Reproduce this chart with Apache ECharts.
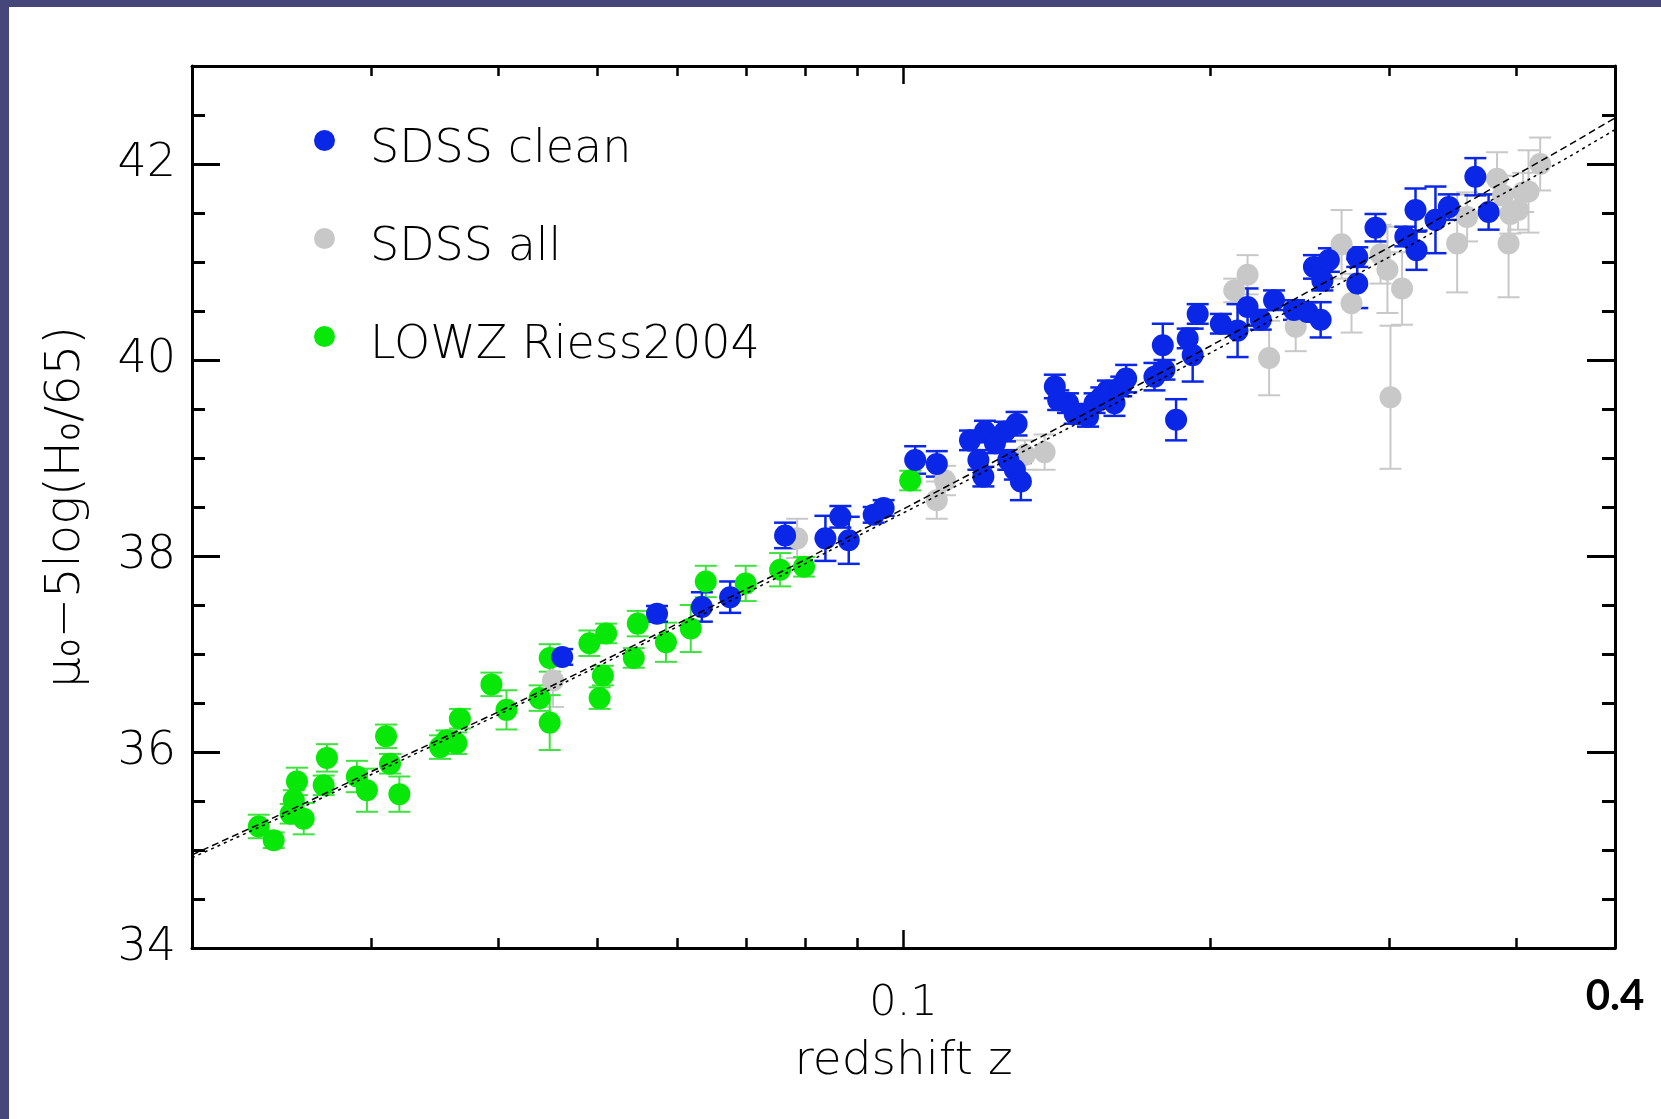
<!DOCTYPE html>
<html>
<head>
<meta charset="utf-8">
<script src="https://cdn.jsdelivr.net/npm/echarts@6/dist/echarts.min.js"></script>
<style>
html, body { margin: 0; padding: 0; background: #46467a; }
#chart { position: absolute; left: 9px; top: 7px; width: 1652px; height: 1112px; background: #fff; }
</style>
</head>
<body>
<div id="chart"></div>
<script>
// SDSS clean (blue)
const cleanZ = [0.04621, 0.05726, 0.06337, 0.06756, 0.0765, 0.08381, 0.08669, 0.08835, 0.09348, 0.09561,
  0.10268, 0.10782, 0.11623, 0.12023, 0.11846, 0.11981, 0.12298, 0.12579, 0.12915, 0.12674,
  0.12865, 0.13041, 0.14082, 0.14189, 0.14507, 0.14729, 0.14949, 0.1518, 0.15406, 0.15642,
  0.15878, 0.16116, 0.16364, 0.16548, 0.17641, 0.18044, 0.17978, 0.18526, 0.19019, 0.19235,
  0.19454, 0.20502, 0.2129, 0.21777, 0.22439, 0.23121, 0.24188, 0.24934, 0.25692, 0.25306,
  0.25793, 0.26176, 0.27911, 0.27911, 0.29087, 0.31117, 0.31842, 0.31915, 0.33312, 0.34333,
  0.36458, 0.37566];
const cleanMu = [36.97, 37.41, 37.48, 37.58, 38.21, 38.18, 38.40, 38.16, 38.42, 38.49,
  38.98, 38.94, 39.18, 39.27, 38.98, 38.81, 39.15, 39.27, 39.35, 38.98,
  38.88, 38.76, 39.73, 39.59, 39.56, 39.45, 39.45, 39.42, 39.56, 39.62,
  39.69, 39.56, 39.73, 39.81, 39.83, 39.90, 40.15, 39.39, 40.22, 40.05,
  40.47, 40.37, 40.30, 40.54, 40.41, 40.61, 40.51, 40.49, 40.41, 40.95,
  40.81, 41.02, 41.05, 40.78, 41.35, 41.26, 41.53, 41.12, 41.43, 41.56,
  41.87, 41.51];
const cleanErr = [0.08, 0.08, 0.15, 0.16, 0.13, 0.23, 0.11, 0.24, 0.08, 0.08,
  0.14, 0.13, 0.10, 0.11, 0.10, 0.10, 0.10, 0.10, 0.12, 0.10,
  0.10, 0.19, 0.12, 0.10, 0.10, 0.10, 0.10, 0.10, 0.10, 0.10,
  0.10, 0.13, 0.10, 0.14, 0.14, 0.10, 0.22, 0.21, 0.10, 0.27,
  0.10, 0.10, 0.27, 0.19, 0.10, 0.10, 0.10, 0.10, 0.18, 0.12,
  0.10, 0.12, 0.10, 0.25, 0.14, 0.10, 0.22, 0.20, 0.34, 0.13,
  0.19, 0.18];

// SDSS all (grey)
const allZ = [0.04525, 0.07862, 0.10985, 0.10782, 0.13159, 0.1376, 0.2113, 0.21777, 0.22866, 0.24283,
  0.26939, 0.2755, 0.29417, 0.29882, 0.30088, 0.30888, 0.34986, 0.35784, 0.38291, 0.38815,
  0.39455, 0.39301, 0.40159, 0.40617, 0.41115, 0.42216];
const allMu = [36.73, 38.18, 38.77, 38.57, 39.03, 39.06, 40.71, 40.87, 40.02, 40.34,
  41.18, 40.58, 41.08, 40.92, 39.62, 40.73, 41.19, 41.46, 41.85, 41.68,
  41.49, 41.19, 41.53, 41.71, 41.72, 42.00];
const allErr = [0.27, 0.20, 0.15, 0.19, 0.15, 0.18, 0.12, 0.20, 0.38, 0.25,
  0.35, 0.30, 0.30, 0.44, 0.73, 0.37, 0.50, 0.25, 0.27, 0.20,
  0.20, 0.55, 0.20, 0.20, 0.42, 0.27];

// LOWZ Riess2004 (green)
const lowzZ = [0.02326, 0.02406, 0.02536, 0.02518, 0.0250, 0.02575, 0.02714, 0.02694, 0.02904, 0.02971,
  0.03102, 0.0313, 0.03197, 0.03505, 0.03557, 0.03666, 0.03638, 0.03937, 0.04074, 0.04391,
  0.04492, 0.04492, 0.04914, 0.05104, 0.05066, 0.05029, 0.05482, 0.05433, 0.05843, 0.0618,
  0.06394, 0.06998, 0.07565, 0.07986, 0.10153];
const lowzMu = [35.24, 35.10, 35.70, 35.51, 35.37, 35.32, 35.94, 35.66, 35.75, 35.61,
  36.16, 35.88, 35.57, 36.05, 36.12, 36.34, 36.09, 36.69, 36.43, 36.55,
  36.30, 36.96, 37.11, 37.21, 36.78, 36.55, 37.31, 36.96, 37.12, 37.26,
  37.74, 37.72, 37.86, 37.89, 38.77];
const lowzErr = [0.12, 0.08, 0.14, 0.10, 0.10, 0.16, 0.14, 0.10, 0.16, 0.22,
  0.12, 0.10, 0.18, 0.12, 0.10, 0.10, 0.11, 0.12, 0.20, 0.13,
  0.28, 0.14, 0.13, 0.10, 0.10, 0.11, 0.13, 0.10, 0.20, 0.24,
  0.16, 0.18, 0.17, 0.10, 0.10];

// model curves
const modelZ = [0.02, 0.025, 0.03, 0.04, 0.05, 0.06, 0.07, 0.08, 0.09, 0.1,
  0.12, 0.15, 0.2, 0.25, 0.3, 0.35, 0.4, 0.45, 0.5];
const modelAMu = [34.95, 35.41, 35.80, 36.41, 36.90, 37.31, 37.66, 37.96, 38.24, 38.48,
  38.91, 39.44, 40.14, 40.70, 41.15, 41.55, 41.89, 42.19, 42.47];
const modelBMu = [34.92, 35.38, 35.77, 36.38, 36.87, 37.28, 37.62, 37.92, 38.20, 38.44,
  38.86, 39.38, 40.07, 40.61, 41.05, 41.44, 41.77, 42.07, 42.35];

// ticks
const xMinorTicks = [0.03, 0.04, 0.05, 0.06, 0.07, 0.08, 0.09, 0.2, 0.3, 0.4];
const xMajorTicks = [0.1];
const xLabels = [0.1];
const yMajorTicks = [34, 36, 38, 40, 42];
const yMinorTicks = [34.5, 35, 35.5, 36.5, 37, 37.5, 38.5, 39, 39.5, 40.5, 41, 41.5, 42.5];

const FONT = 'DejaVu Sans';
const BLUE = '#0a26e6';
const GREY = '#c8c8c8';
const GREEN = '#08e808';

const chart = echarts.init(document.getElementById('chart'));

function xAxis(position, ticks, len, showLine, showLabel) {
  return {
    type: 'log', logBase: 10, min: 0.02, max: 0.5, position: position,
    axisLine: { show: showLine, onZero: false, lineStyle: { color: '#000', width: 3 } },
    axisTick: { show: true, inside: true, length: len, customValues: ticks, lineStyle: { color: '#000', width: 2.5 } },
    axisLabel: {
      show: showLabel, customValues: xLabels, margin: 34, fontSize: 43, fontFamily: FONT, fontWeight: 200, color: '#000',
      formatter: v => String(Number(v.toPrecision(2)))
    },
    splitLine: { show: false }
  };
}

function yAxis(position, ticks, len, showLine, showLabel) {
  return {
    type: 'value', min: 34, max: 43, position: position,
    axisLine: { show: showLine, onZero: false, lineStyle: { color: '#000', width: 3 } },
    axisTick: { show: true, inside: true, length: len, customValues: ticks, lineStyle: { color: '#000', width: 3 } },
    axisLabel: { show: showLabel, customValues: yMajorTicks, margin: 16, fontSize: 46, fontFamily: FONT, fontWeight: 200, color: '#000' },
    splitLine: { show: false }
  };
}

function errorBars(color, width) {
  return function (params, api) {
    const z = api.value(0), m = api.value(1), e = api.value(2);
    const hi = api.coord([z, m + e]);
    const lo = api.coord([z, m - e]);
    const cap = 11;
    const style = { stroke: color, lineWidth: width };
    return {
      type: 'group',
      children: [
        { type: 'line', shape: { x1: hi[0], y1: hi[1], x2: lo[0], y2: lo[1] }, style: style },
        { type: 'line', shape: { x1: hi[0] - cap, y1: hi[1], x2: hi[0] + cap, y2: hi[1] }, style: style },
        { type: 'line', shape: { x1: lo[0] - cap, y1: lo[1], x2: lo[0] + cap, y2: lo[1] }, style: style }
      ]
    };
  };
}

function pts(zs, mus) { return zs.map((z, i) => [z, mus[i]]); }
function errs(zs, mus, es) { return zs.map((z, i) => [z, mus[i], es[i]]); }

let xAx = xAxis('bottom', xMinorTicks, 10, true, true);
xAx.name = 'redshift z';
xAx.nameLocation = 'middle';
xAx.nameGap = 90;
xAx.nameTextStyle = { fontSize: 47, fontFamily: FONT, fontWeight: 200, color: '#000' };

let yAx = yAxis('left', yMajorTicks, 28, true, true);
yAx.name = 'μ₀−5log(H₀/65)';
yAx.nameLocation = 'middle';
yAx.nameGap = 101;
yAx.nameTextStyle = { fontSize: 48, fontFamily: FONT, fontWeight: 200, color: '#000' };

// circle drawn in the top of a taller box, so the label sits a little lower than the dot
const legendDot = 'path://M10.5,0A10.5,10.5,0,1,1,10.5,21A10.5,10.5,0,1,1,10.5,0ZM10.5,40';

let option = {
  animation: false,
  grid: { left: 183, top: 59, width: 1423, height: 882, containLabel: false, outerBoundsMode: 'none' },
  xAxis: [
    xAx,
    xAxis('bottom', xMajorTicks, 18, false, false),
    xAxis('top', xMinorTicks, 10, true, false),
    xAxis('top', xMajorTicks, 18, false, false)
  ],
  yAxis: [
    yAx,
    yAxis('left', yMinorTicks, 13, false, false),
    yAxis('right', yMajorTicks, 28, true, false),
    yAxis('right', yMinorTicks, 13, false, false)
  ],
  legend: {
    orient: 'vertical', left: 305, top: 120, itemGap: 52, padding: 0,
    itemWidth: 21, itemHeight: 40, icon: legendDot,
    data: ['SDSS clean', 'SDSS all', 'LOWZ Riess2004'],
    textStyle: { fontSize: 46, lineHeight: 46, fontFamily: FONT, fontWeight: 200, color: '#000', padding: [0, 0, 0, 30] }
  },
  series: [
    { name: 'all err', type: 'custom', renderItem: errorBars(GREY, 2), data: errs(allZ, allMu, allErr), encode: { x: 0, y: 1 }, silent: true },
    { name: 'SDSS all', type: 'scatter', symbolSize: 22, itemStyle: { color: GREY, opacity: 1 }, data: pts(allZ, allMu) },
    { name: 'lowz err', type: 'custom', renderItem: errorBars('#3ee23e', 2), data: errs(lowzZ, lowzMu, lowzErr), encode: { x: 0, y: 1 }, silent: true },
    { name: 'LOWZ Riess2004', type: 'scatter', symbolSize: 22, itemStyle: { color: GREEN, opacity: 1 }, data: pts(lowzZ, lowzMu) },
    { name: 'clean err', type: 'custom', renderItem: errorBars(BLUE, 2.5), data: errs(cleanZ, cleanMu, cleanErr), encode: { x: 0, y: 1 }, silent: true },
    { name: 'SDSS clean', type: 'scatter', symbolSize: 22, itemStyle: { color: BLUE, opacity: 1 }, data: pts(cleanZ, cleanMu) },
    { name: 'model A', type: 'line', showSymbol: false, silent: true, lineStyle: { color: '#000', width: 1.5, type: [7, 4] }, data: pts(modelZ, modelAMu) },
    { name: 'model B', type: 'line', showSymbol: false, silent: true, lineStyle: { color: '#000', width: 1.5, type: [3, 4] }, data: pts(modelZ, modelBMu) }
  ]
};
chart.setOption(option);

// the stray "0.4" label sits under the right end of the axis
const xr = chart.convertToPixel({ xAxisIndex: 0 }, 0.5);
const yb = chart.convertToPixel({ yAxisIndex: 0 }, 34);
chart.setOption({
  graphic: [{
    type: 'text', x: xr, y: yb + 48,
    style: { text: '0.4', fontSize: 42, fontWeight: 'bold', fontFamily: 'Lato', fill: '#000', align: 'center', verticalAlign: 'middle' }
  }]
});
</script>
</body>
</html>
